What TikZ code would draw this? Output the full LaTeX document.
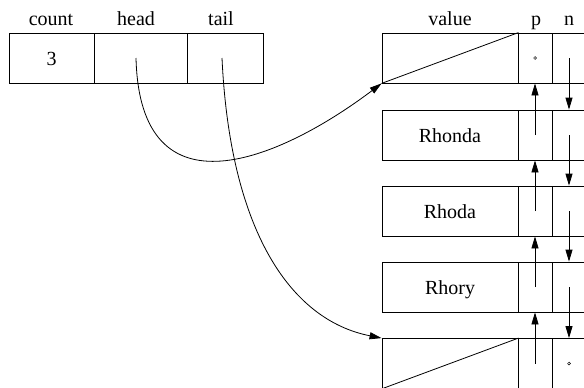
\documentclass[tikz,border=0pt]{standalone}
\usepackage{fontspec}
\setmainfont{Liberation Serif}
\usetikzlibrary{arrows.meta}
\begin{document}
\begin{tikzpicture}[x=1pt,y=-1pt,
  cell/.style={draw, line width=0.8pt, minimum height=50pt, inner sep=0pt,
    font=\fontsize{20}{24}\selectfont, text height=14pt, text depth=0pt},
  lbl/.style={anchor=base, inner sep=0pt, font=\fontsize{20}{24}\selectfont},
  ptr/.style={-{Triangle[length=12pt,width=7pt]}, line width=0.8pt},
  thin/.style={line width=0.8pt}
]
\useasboundingbox (0,0) rectangle (584,388);
\begin{scope}
\clip (0,0) rectangle (584,388);
% header labels
\node[lbl] (lcount) at (51,25) {count};
\node[lbl] (lhead) at (136,25) {head};
\node[lbl] (ltail) at (221,25) {tail};
\node[lbl] (lvalue) at (450,25) {value};
\node[lbl] (lp) at (536,25) {p};
\node[lbl] (ln) at (569,25) {n};
% list struct
\node[cell, minimum width=85pt] (count) at (51.5,58) {3};
\node[cell, minimum width=93pt] (head) at (140.5,58) {};
\node[cell, minimum width=76pt] (tail) at (225,58) {};
% list nodes
\foreach \i/\y/\t in {1/58/{},2/135/Rhonda,3/211/Rhoda,4/287/Rhory,5/363.5/{}}{
  \node[cell, minimum width=136pt] (v\i) at (450,\y) {\t};
  \node[cell, minimum width=34pt] (p\i) at (535,\y) {};
  \node[cell, minimum width=34pt] (n\i) at (569,\y) {};
}
% null markers
\draw[thin] (v1.south west) -- (v1.north east);
\draw[thin] (v5.north east) -- (v5.south west);
\draw[line width=0.5pt] (p1.center) circle[radius=1.4pt];
\draw[line width=0.5pt] (n5.center) circle[radius=1.4pt];
% prev / next pointers
\foreach \a/\b in {2/1,3/2,4/3,5/4}{
  \draw[ptr] (p\a.center) -- (p\b.south);
}
\foreach \a/\b in {1/2,2/3,3/4,4/5}{
  \draw[ptr] (n\a.center) -- (n\b.north);
}
% head and tail pointers
\coordinate (hs) at (136,58);
\coordinate (ts) at (222,58);
\draw[ptr] (hs) .. controls (140,220) and (280,160) .. (v1.south west);
\draw[ptr] (ts) .. controls (230,230) and (290,320) .. (v5.north west);
\end{scope}
\end{tikzpicture}
\end{document}
